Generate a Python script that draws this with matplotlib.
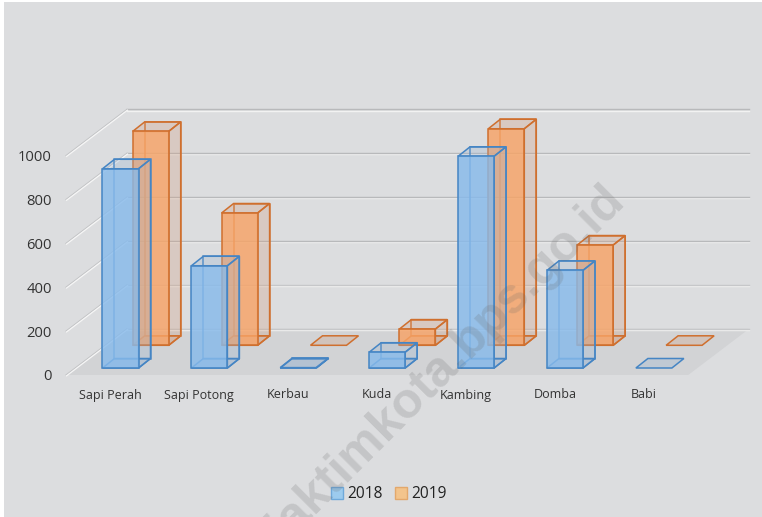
"""3D style clustered bars, livestock 2018 vs 2019."""

import matplotlib
matplotlib.use('Agg')
import matplotlib.pyplot as plt
from matplotlib.patches import Polygon, Rectangle

categories = ['Sapi Perah', 'Sapi Potong', 'Kerbau', 'Kuda', 'Kambing', 'Domba', 'Babi']
values_2018 = [908, 466, 2, 72, 965, 445, 0]
values_2019 = [975, 603, 0, 74, 987, 457, 0]
y_ticks = [0, 200, 400, 600, 800, 1000]

W, H = 762, 517
PX_CAT = 88.9      # pixels per category
PX_VAL = 0.2194    # pixels per value unit
X0_PX, Y0_PX = 110.4, 375


def px_x(n):
  return n / PX_CAT


def px_y(n):
  return n / PX_VAL


fig = plt.figure(figsize=(W / 100, H / 100), dpi=100, facecolor='white')
ax = fig.add_axes([0, 0, 1, 1])
ax.set_xlim(-X0_PX / PX_CAT, (W - X0_PX) / PX_CAT)
ax.set_ylim((Y0_PX - H) / PX_VAL, Y0_PX / PX_VAL)
ax.axis('off')

plt.rcParams['font.family'] = ['Open Sans', 'DejaVu Sans']

# chart background, leaves a thin white edge at left and top
ax.add_patch(Rectangle((-X0_PX / PX_CAT + px_x(4), ax.get_ylim()[0]), px_x(W), px_y(H - 2),
                       fc='#dcddDf', ec='none', zorder=0))

front_l = -0.5
front_r = len(categories) - 0.5
depth_x = px_x(61)
depth_y = px_y(46.3)

# floor
ax.add_patch(Polygon([(front_l, 0), (front_r, 0), (front_r + depth_x, depth_y), (front_l + depth_x, depth_y)],
                     fc='#d2d3d5', ec='none', zorder=1))

# gridlines, grey with a white edge under them
for v in y_ticks:
  c_top = '#b8b9bb' if v >= 400 else '#c6c7c9'
  xs = [front_l + depth_x, front_r + depth_x]
  ys = [v + depth_y, v + depth_y]
  ax.plot(xs, [y - px_y(1.2) for y in ys], color='#f2f2f2', lw=1.0, zorder=1.5)
  ax.plot(xs, ys, color=c_top, lw=1.0, zorder=1.6)
  # side wall part is mostly white
  ax.plot([front_l, front_l + depth_x], [v, v + depth_y], color='#c2c3c5', lw=0.8, zorder=1.5)
  ax.plot([front_l + px_x(0.6), front_l + depth_x + px_x(0.6)], [v - px_y(0.8), v + depth_y - px_y(0.8)],
          color='#f6f6f6', lw=0.9, zorder=1.6)
  ax.text(front_l - px_x(14), v - px_y(2), str(v), ha='right', va='center', fontsize=10.6, color='#333333')

for i, name in enumerate(categories):
  ax.text(i, px_y(-20), name, ha='center', va='center', fontsize=9, color='#333333')


def draw_bar(i, val, off_x, off_y, edge, front, side, z):
  bw = px_x(36)
  dx = px_x(12)
  dy = px_y(9.5)
  x0 = i + off_x
  x1 = x0 + bw
  y0 = off_y
  y1 = off_y + val
  lw = 1.1
  # top face is the only thing left of an empty bar
  ax.add_patch(Polygon([(x0, y1), (x1, y1), (x1 + dx, y1 + dy), (x0 + dx, y1 + dy)],
                       fc=side, ec=edge, lw=lw, zorder=z))
  if val == 0:
    return
  # back faces first, they show through the front
  ax.add_patch(Polygon([(x1, y0), (x1 + dx, y0 + dy), (x1 + dx, y1 + dy), (x1, y1)],
                       fc=side, ec=edge, lw=lw, zorder=z, joinstyle='miter'))
  ax.add_patch(Polygon([(x0 + dx, y0 + dy), (x1 + dx, y0 + dy), (x1 + dx, y1 + dy), (x0 + dx, y1 + dy)],
                       fc='none', ec=edge, lw=lw, alpha=0.85, zorder=z))
  ax.add_patch(Polygon([(x0, y0), (x1, y0), (x1 + dx, y0 + dy), (x0 + dx, y0 + dy)],
                       fc=side, ec=edge, lw=lw, zorder=z))
  ax.add_patch(Rectangle((x0, y0), bw, val, fc=front, ec=edge, lw=lw, zorder=z + 0.1))


blue_edge, blue_front, blue_side = '#4585c4', (0.53, 0.73, 0.92, 0.82), (0.60, 0.70, 0.82, 0.30)
orange_edge, orange_front, orange_side = '#cf6f2e', (0.97, 0.64, 0.40, 0.82), (0.82, 0.62, 0.50, 0.30)

# 2019 sits behind 2018
for i, v in enumerate(values_2019):
  draw_bar(i, v, px_x(22.3), px_y(29.7), orange_edge, orange_front, orange_side, 2)
for i, v in enumerate(values_2018):
  draw_bar(i, v, px_x(-7.9), px_y(7), blue_edge, blue_front, blue_side, 3)

# legend
leg_y = px_y(375 - 493)
for lab, fc, ec, px in [('2018', '#9ccbee', '#6fa9da', 337), ('2019', '#f3c48c', '#e3a86c', 401)]:
  lx = (px - X0_PX) / PX_CAT
  ax.add_patch(Rectangle((lx - px_x(6), leg_y - px_y(6)), px_x(12), px_y(12), fc=fc, ec=ec, lw=1, zorder=3))
  ax.text(lx + px_x(10), leg_y - px_y(0.5), lab, ha='left', va='center', fontsize=11.2, color='#222222', zorder=3)

# watermark, runs off the bottom edge like the source
wm_x = (447 - X0_PX) / PX_CAT
wm_y = (Y0_PX - 366) / PX_VAL
ax.text(wm_x, wm_y, 'jaktimkota.bps.go.id', rotation=45, rotation_mode='anchor', ha='center', va='center',
        fontsize=36, fontweight='bold', family=['Liberation Sans', 'DejaVu Sans'], color='#666666',
        alpha=0.2, zorder=5)

fig.savefig('out.png', dpi=100, facecolor=fig.get_facecolor())
